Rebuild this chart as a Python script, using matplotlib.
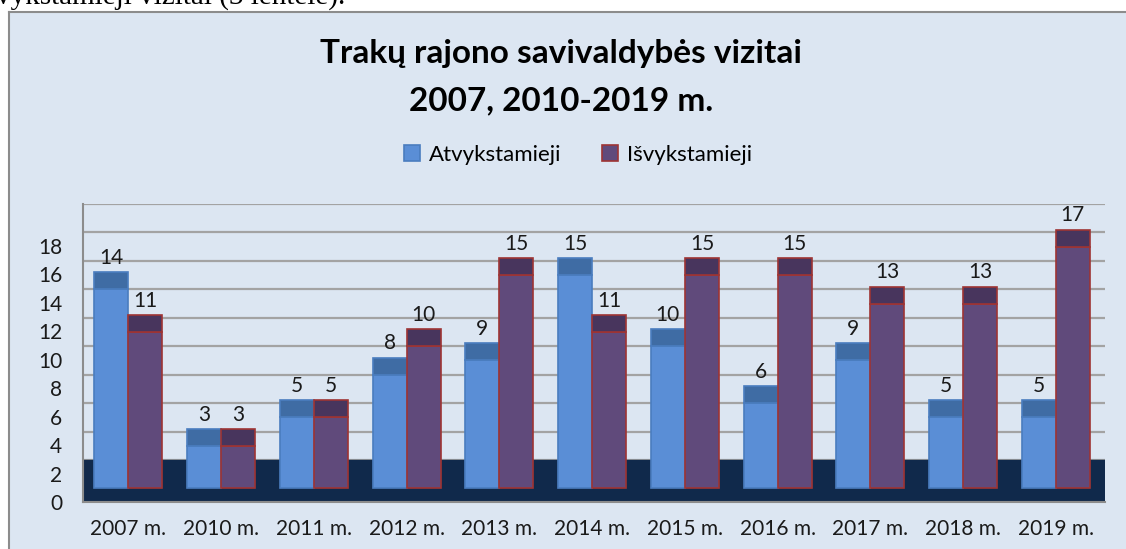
import numpy as np
import matplotlib
matplotlib.use("Agg")
import matplotlib.pyplot as plt

# data
years = ["2007 m.", "2010 m.", "2011 m.", "2012 m.", "2013 m.", "2014 m.",
         "2015 m.", "2016 m.", "2017 m.", "2018 m.", "2019 m."]
atvykstamieji = [14, 3, 5, 8, 9, 15, 10, 6, 9, 5, 5]
isvykstamieji = [11, 3, 5, 10, 15, 11, 15, 15, 13, 13, 17]
series_names = ["Atvykstamieji", "Išvykstamieji"]
y_ticks = list(range(0, 20, 2))

W, H = 1126, 549
BG = "#DCE6F2"
FLOOR = "#10294B"
BLUE, BLUE_TOP, BLUE_EDGE = "#5A8ED6", "#3F6CA4", "#4A7DBF"
PURPLE, PURPLE_TOP, PURPLE_EDGE = "#604A7B", "#48355D", "#9E3434"
GRID = "#A3A3A3"

plt.rcParams["font.family"] = ["Lato", "DejaVu Sans"]

fig = plt.figure(figsize=(W / 100, H / 100), dpi=100)
fig.patch.set_facecolor("white")


def px(x, y):
    """pixel (from top-left) -> figure fraction"""
    return x / W, 1 - y / H


# chart frame
frame = fig.add_axes([9 / W, 0, 1 - 9 / W, 1 - 12 / H])
frame.set_facecolor(BG)
frame.set_xticks([])
frame.set_yticks([])
for side in ["left", "top"]:
    frame.spines[side].set_color("#8C8C8C")
    frame.spines[side].set_linewidth(1.5)
for side in ["right", "bottom"]:
    frame.spines[side].set_visible(False)

# text cut off above the chart (document body)
fig.text(345 / W, 1 - 4 / H, "vykstamieji vizitai (3 lentelė).",
         family="Liberation Serif", fontsize=21, ha="right", va="baseline",
         color="black")

# title
fig.text(*px(561, 53), "Trakų rajono savivaldybės vizitai", fontsize=24,
         fontweight="bold", ha="center", va="center", color="black")
fig.text(*px(561, 101), "2007, 2010-2019 m.", fontsize=24,
         fontweight="bold", ha="center", va="center", color="black")

# plot area
x0, x1, y_top, y_bot = 83, 1105, 204, 502
ax = fig.add_axes([x0 / W, 1 - y_bot / H, (x1 - x0) / W, (y_bot - y_top) / H])
ax.set_facecolor("none")

depth = 2.0        # back wall offset of the 3D floor
top_face = 1.2     # height of the visible bar top
label_shift = 0.95
ax.set_xlim(-0.49, 10.53)
ax.set_ylim(-0.84, 20.0)

for v in y_ticks:
    ax.axhline(v + depth, color=GRID, lw=1.6, zorder=1)
ax.axhspan(-0.84, depth, color=FLOOR, zorder=2)

x = np.arange(len(years))
w = 0.367
groups = [
    (x - w / 2, atvykstamieji, BLUE, BLUE_TOP, BLUE_EDGE),
    (x + w / 2, isvykstamieji, PURPLE, PURPLE_TOP, PURPLE_EDGE),
]
for xs, vals, face, top, edge in groups:
    ax.bar(xs, vals, width=w, color=face, edgecolor=edge, lw=1.2, zorder=3)
    ax.bar(xs, [top_face] * len(vals), bottom=vals, width=w, color=top,
           edgecolor=edge, lw=1.2, zorder=3)
    for xi, v in zip(xs, vals):
        ax.text(xi, v + top_face + 1.0, str(v), ha="center", va="center",
                fontsize=15, color="#1A1A1A", zorder=4)

ax.set_yticks([v - label_shift for v in y_ticks])
ax.set_yticklabels([str(v) for v in y_ticks])
ax.set_xticks(x)
ax.set_xticklabels(years)
ax.tick_params(axis="y", length=0, pad=15, labelsize=15, labelcolor="#1A1A1A")
ax.tick_params(axis="x", length=0, pad=12, labelsize=15, labelcolor="#1A1A1A")
for side in ["top", "right"]:
    ax.spines[side].set_visible(False)
ax.spines["left"].set_color("#8C8C8C")
ax.spines["bottom"].set_color("#8C8C8C")
ax.spines["left"].set_linewidth(1.5)
ax.spines["bottom"].set_linewidth(1.5)

# legend
handles = [plt.Rectangle((0, 0), 1, 1, facecolor=BLUE, edgecolor=BLUE_EDGE, lw=1.2),
           plt.Rectangle((0, 0), 1, 1, facecolor=PURPLE, edgecolor=PURPLE_EDGE, lw=1.2)]
fig.legend(handles, series_names, loc="center", bbox_to_anchor=px(578, 155),
           ncol=2, frameon=False, fontsize=16, handlelength=0.75,
           handleheight=0.75, handletextpad=0.4, columnspacing=1.8)

fig.savefig("out.png", dpi=100, facecolor=fig.get_facecolor())
